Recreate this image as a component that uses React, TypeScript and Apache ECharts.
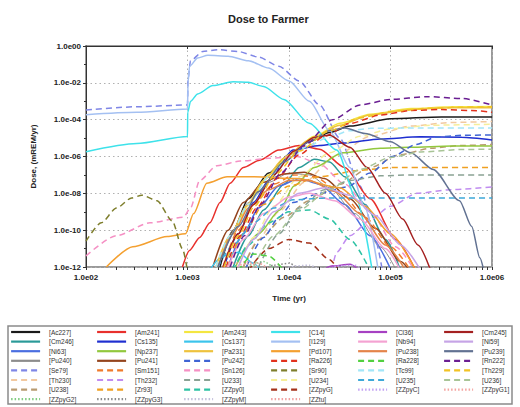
import React, { useEffect, useRef } from "react";
import * as echarts from "echarts";

// Each point: [log10(time, yr), log10(dose, mREM/yr)]
const ac227 = [[3.32,-12],[3.45,-10],[3.6,-8.3],[3.8,-6.9],[4.0,-5.9],[4.2,-5.2],[4.4,-4.7],[4.6,-4.35],[5.0,-3.95],[5.5,-3.85],[6,-3.85]];
const am241 = [[2.95,-12],[3.02,-11.1],[3.12,-10.4],[3.22,-9.6],[3.32,-8.5],[3.42,-7.45],[3.55,-6.6],[3.71,-6.2],[3.9,-5.65],[4.1,-5.4],[4.3,-5.6],[4.55,-6.6],[4.8,-8.3],[5.05,-10.5],[5.25,-12.2]];
const am243 = [[3.3,-12],[3.45,-10.2],[3.6,-8.6],[3.8,-7.0],[4.0,-5.9],[4.25,-4.9],[4.5,-4.2],[4.8,-3.7],[5.2,-3.4],[5.6,-3.3],[6,-3.28]];
const cm246 = [[3.45,-12],[3.6,-10.3],[3.75,-8.9],[3.95,-7.5],[4.1,-6.6],[4.25,-6.15],[4.4,-6.3],[4.55,-7.1],[4.75,-8.6],[4.95,-10.5],[5.1,-12.2]];
const cs135 = [[3.36,-12],[3.5,-10.2],[3.65,-8.5],[3.8,-7.3],[4.04,-5.65],[4.3,-5.4],[4.53,-5.27],[4.9,-5.05],[5.29,-4.93],[5.7,-4.95],[6,-5.1]];
const cs137 = [[3.2,-12.3],[3.35,-11.4],[3.5,-11.2],[3.65,-11.8],[3.75,-12.4]];
const ni63 = [[3.4,-12],[3.55,-10.2],[3.7,-8.8],[3.9,-7.6],[4.1,-7.2],[4.3,-7.5],[4.55,-8.6],[4.8,-10.3],[5.0,-12.1]];
const np237 = [[3.47,-12],[3.7,-10.2],[3.91,-8.9],[4.05,-7.6],[4.25,-6.6],[4.53,-5.8],[4.9,-5.55],[5.19,-5.5],[5.6,-5.43],[6,-5.43]];
const pa231 = [[3.28,-12],[3.42,-10.3],[3.58,-8.7],[3.75,-7.3],[3.95,-6.1],[4.2,-5.1],[4.5,-4.3],[4.8,-3.75],[5.2,-3.45],[5.6,-3.35],[6,-3.35]];
const pu240 = [[3.3,-12],[3.45,-10],[3.6,-8.5],[3.8,-7.4],[4.0,-6.9],[4.2,-7.0],[4.4,-7.7],[4.65,-9.1],[4.9,-10.9],[5.05,-12.1]];
const pu241 = [[3.25,-12],[3.4,-10],[3.55,-8.5],[3.75,-7.4],[3.95,-6.95],[4.15,-6.85],[4.35,-7.2],[4.6,-8.3],[4.85,-9.9],[5.1,-11.7],[5.2,-12.3]];
const pu242 = [[3.58,-12],[3.75,-10.4],[3.9,-9.3],[4.04,-8.5],[4.3,-8.0],[4.57,-7.65],[4.8,-6.9],[5.02,-6.0],[5.25,-5.35],[5.45,-4.95],[5.7,-4.85],[6,-4.83]];
const se79 = [[2,-3.47],[2.5,-3.3],[3,-3.2],[3.005,-1.8],[3.03,-0.8],[3.15,-0.3],[3.3,-0.2],[3.5,-0.3],[3.7,-0.6],[3.9,-1.1],[4.1,-1.9],[4.3,-3.2],[4.5,-5],[4.7,-7.6],[4.85,-10.5],[4.92,-12.2]];
const sm151 = [[3.35,-12],[3.5,-10],[3.65,-8.6],[3.85,-7.5],[4.05,-7.0],[4.25,-7.1],[4.5,-7.9],[4.75,-9.3],[5.0,-10.9],[5.2,-12.2]];
const sn126 = [[2,-11.4],[2.3,-10.3],[2.63,-9.6],[2.96,-9.3],[3.03,-8.8],[3.12,-7.3],[3.29,-6.5],[3.52,-6.25],[3.8,-6.1],[4.08,-6.0],[4.3,-6.4],[4.55,-7.5],[4.8,-9.0],[5.05,-10.9],[5.25,-12.3]];
const th230 = [[3.55,-12],[3.7,-10.5],[3.9,-9.0],[4.15,-7.4],[4.45,-6.0],[4.8,-4.9],[5.2,-4.35],[5.6,-4.15],[6,-4.1]];
const th232 = [[4.42,-12.2],[4.47,-11.2],[4.6,-10.3],[4.8,-9.45],[5.0,-8.7],[5.26,-8.0],[5.6,-7.8],[6,-7.65]];
const u233 = [[3.7,-12],[3.9,-10.2],[4.1,-8.8],[4.35,-7.8],[4.6,-7.3],[4.9,-7.05],[5.2,-7.0],[6,-7.0]];
const u238 = [[3.55,-12],[3.71,-10.5],[3.95,-9.3],[4.2,-8.4],[4.5,-7.5],[4.8,-6.6],[5.09,-5.9],[5.4,-5.55],[5.7,-5.4],[6,-5.35]];
const zr93 = [[3.4,-12],[3.55,-10.2],[3.75,-8.6],[4.0,-7.6],[4.3,-7.1],[4.7,-6.75],[5.0,-6.6],[6,-6.6]];
const zzpy0 = [[3.45,-12.2],[3.6,-10.8],[3.8,-9.6],[4.0,-9.0],[4.2,-8.9],[4.4,-9.4],[4.6,-10.5],[4.8,-12.2]];
const zzpyG2 = [[3.5,-12.3],[3.6,-11.9],[3.75,-11.7],[3.9,-12.3]];
const zzpyG3 = [[3.7,-12.3],[3.85,-11.9],[4.0,-11.8],[4.15,-12.3]];
const zzpyM = [[3.9,-12.3],[4.05,-11.95],[4.2,-11.9],[4.35,-12.3]];
const c14 = [[2,-5.74],[2.5,-5.3],[3,-4.92],[3.002,-3.6],[3.03,-3.0],[3.1,-2.6],[3.25,-2.15],[3.45,-1.94],[3.6,-1.97],[3.75,-2.2],[3.95,-2.9],[4.2,-4.2],[4.47,-5.65],[4.67,-8.4],[4.82,-12.2]];
const i129 = [[2,-3.73],[2.5,-3.6],[3,-3.42],[3.005,-2.0],[3.02,-1.1],[3.1,-0.65],[3.2,-0.5],[3.4,-0.55],[3.6,-0.8],[3.8,-1.2],[4.0,-1.9],[4.2,-3.0],[4.4,-4.6],[4.6,-6.6],[4.75,-8.8],[4.88,-12.2]];
const pd107 = [[2.2,-12],[2.46,-10.9],[2.8,-10.35],[2.98,-10.2],[3.06,-9.1],[3.19,-7.45],[3.39,-7.1],[3.65,-7.1],[4.08,-7.2],[4.5,-7.7],[4.75,-8.7],[5.0,-10.2],[5.25,-12.2]];
const ra226 = [[3.38,-12],[3.52,-10.3],[3.68,-8.8],[3.88,-7.2],[4.1,-5.9],[4.35,-4.9],[4.6,-4.2],[4.9,-3.75],[5.2,-3.5],[5.5,-3.45],[5.8,-3.5],[6,-3.6]];
const sr90 = [[2,-10.6],[2.15,-9.6],[2.3,-8.8],[2.45,-8.25],[2.55,-8.1],[2.7,-8.4],[2.85,-9.5],[2.95,-11.0],[3.0,-12.2]];
const u234 = [[3.5,-12],[3.65,-10.4],[3.85,-8.7],[4.1,-7.1],[4.4,-5.8],[4.7,-4.9],[5.0,-4.5],[5.4,-4.3],[6,-4.25]];
const zzpyG = [[3.6,-12.2],[3.8,-11.0],[4.0,-10.5],[4.2,-10.7],[4.4,-11.6],[4.5,-12.3]];
const zztu = [[3.3,-12.3],[3.45,-11.8],[3.6,-11.7],[3.75,-12.3]];
const cl36 = [[4.3,-12.3],[4.42,-11.95],[4.6,-11.85],[4.72,-12.3]];
const nb94 = [[3.4,-12],[3.55,-10.5],[3.75,-9.1],[4.0,-8.2],[4.2,-8.0],[4.45,-8.4],[4.7,-9.4],[4.95,-11],[5.1,-12.2]];
const pu238 = [[3.3,-12],[3.45,-10.2],[3.6,-8.8],[3.8,-7.8],[4.0,-7.3],[4.2,-7.3],[4.45,-7.9],[4.7,-9.1],[4.95,-10.8],[5.15,-12.2]];
const ra228 = [[3.5,-12.2],[3.65,-11.3],[3.8,-11.4],[3.95,-12.2]];
const tc99 = [[3.28,-12],[3.42,-10.3],[3.6,-8.6],[3.8,-7.1],[4.0,-6.1],[4.2,-5.4],[4.37,-5.0],[4.6,-4.6],[4.8,-4.47],[5.2,-4.45],[6,-4.45]];
const u235 = [[3.3,-12],[3.45,-10.8],[3.65,-9.6],[3.85,-8.8],[4.04,-8.35],[4.4,-8.25],[6,-8.25]];
const zzpyC = [[4.4,-12.3],[4.47,-11.95],[4.65,-11.9],[4.75,-12.3]];
const cm245 = [[3.35,-12],[3.5,-10.2],[3.65,-8.6],[3.85,-7.0],[4.05,-5.7],[4.25,-4.95],[4.4,-4.85],[4.6,-5.5],[4.77,-6.6],[4.95,-8.0],[5.12,-9.4],[5.27,-10.8],[5.39,-12.1]];
const ni59 = [[3.5,-12],[3.65,-10.5],[3.85,-9.0],[4.1,-8.0],[4.35,-7.7],[4.6,-8.1],[4.85,-9.2],[5.1,-10.8],[5.3,-12.2]];
const pu239 = [[3.3,-12],[3.5,-9.8],[3.7,-7.9],[3.95,-6.3],[4.2,-5.2],[4.4,-4.6],[4.55,-4.45],[4.75,-4.75],[5.0,-5.2],[5.2,-5.8],[5.42,-6.7],[5.68,-8.4],[5.8,-9.8],[5.88,-11.5],[5.92,-12.2]];
const rn222 = [[3.42,-12],[3.56,-10.3],[3.72,-8.6],[3.92,-6.9],[4.15,-5.4],[4.43,-4.0],[4.7,-3.2],[5.0,-2.9],[5.36,-2.75],[5.7,-2.85],[6,-3.2]];
const th229 = [[3.36,-12],[3.5,-10.3],[3.66,-8.7],[3.86,-7.0],[4.1,-5.7],[4.4,-4.6],[4.7,-3.9],[5.0,-3.55],[5.4,-3.38],[5.7,-3.32],[6,-3.3]];
const u236 = [[3.65,-12],[3.85,-10.3],[4.1,-8.9],[4.4,-7.8],[4.7,-6.7],[5.0,-6.05],[5.3,-5.75],[5.7,-5.62],[6,-5.6]];
const zzpyG1 = [[3.4,-12.3],[3.55,-11.85],[3.7,-11.8],[3.85,-12.3]];

const xTickValues = [2, 3, 4, 5, 6];
const yTickValues = [0, -2, -4, -6, -8, -10, -12];

const legendColumns = [
  ["[Ac227]", "[Cm246]", "[Ni63]", "[Pu240]", "[Se79]", "[Th230]", "[U238]", "[ZZpyG2]"],
  ["[Am241]", "[Cs135]", "[Np237]", "[Pu241]", "[Sm151]", "[Th232]", "[Zr93]", "[ZZpyG3]"],
  ["[Am243]", "[Cs137]", "[Pa231]", "[Pu242]", "[Sn126]", "[U233]", "[ZZpy0]", "[ZZpyM]"],
  ["[C14]", "[I129]", "[Pd107]", "[Ra226]", "[Sr90]", "[U234]", "[ZZpyG]", "[ZZtu]"],
  ["[Cl36]", "[Nb94]", "[Pu238]", "[Ra228]", "[Tc99]", "[U235]", "[ZZpyC]"],
  ["[Cm245]", "[Ni59]", "[Pu239]", "[Rn222]", "[Th229]", "[U236]", "[ZZpyG1]"],
];

const DASH = [6, 4];
const DOT = [1.5, 2];
const SERIES: { name: string; data: number[][]; color: string; dash: any; width?: number }[] = [
  { name: "[Ac227]", data: ac227, color: "#1a1a1a", dash: "solid" },
  { name: "[Cm246]", data: cm246, color: "#2a9a98", dash: "solid" },
  { name: "[Ni63]", data: ni63, color: "#4a6ee0", dash: "solid" },
  { name: "[Pu240]", data: pu240, color: "#8c8c8c", dash: "solid", width: 1 },
  { name: "[Se79]", data: se79, color: "#7f86e6", dash: DASH },
  { name: "[Th230]", data: th230, color: "#f2c9a0", dash: DASH },
  { name: "[U238]", data: u238, color: "#b89a70", dash: DASH },
  { name: "[ZZpyG2]", data: zzpyG2, color: "#80cc80", dash: DOT },
  { name: "[Am241]", data: am241, color: "#e8302c", dash: "solid" },
  { name: "[Cs135]", data: cs135, color: "#1f2fd0", dash: "solid" },
  { name: "[Np237]", data: np237, color: "#92c83e", dash: "solid" },
  { name: "[Pu241]", data: pu241, color: "#94441e", dash: "solid" },
  { name: "[Sm151]", data: sm151, color: "#f07a2a", dash: DASH },
  { name: "[Th232]", data: th232, color: "#c08cf0", dash: DASH },
  { name: "[Zr93]", data: zr93, color: "#f0a020", dash: DASH },
  { name: "[ZZpyG3]", data: zzpyG3, color: "#8a8a8a", dash: DOT },
  { name: "[Am243]", data: am243, color: "#f4e640", dash: "solid" },
  { name: "[Cs137]", data: cs137, color: "#3cc4ec", dash: "solid" },
  { name: "[Pa231]", data: pa231, color: "#eec23e", dash: "solid" },
  { name: "[Pu242]", data: pu242, color: "#3f64d4", dash: DASH },
  { name: "[Sn126]", data: sn126, color: "#f590c4", dash: DASH },
  { name: "[U233]", data: u233, color: "#8aa294", dash: DASH },
  { name: "[ZZpy0]", data: zzpy0, color: "#2ec2a4", dash: DASH },
  { name: "[ZZpyM]", data: zzpyM, color: "#c4c0dc", dash: DOT },
  { name: "[C14]", data: c14, color: "#3ee2ea", dash: "solid" },
  { name: "[I129]", data: i129, color: "#a4c0f2", dash: "solid" },
  { name: "[Pd107]", data: pd107, color: "#f4a030", dash: "solid" },
  { name: "[Ra226]", data: ra226, color: "#e2321e", dash: DASH },
  { name: "[Sr90]", data: sr90, color: "#7e7e2c", dash: DASH },
  { name: "[U234]", data: u234, color: "#f6ee9a", dash: DASH },
  { name: "[ZZpyG]", data: zzpyG, color: "#a4301a", dash: DASH },
  { name: "[ZZtu]", data: zztu, color: "#f2a2a2", dash: DOT },
  { name: "[Cl36]", data: cl36, color: "#a640c2", dash: "solid" },
  { name: "[Nb94]", data: nb94, color: "#f4a2d2", dash: "solid" },
  { name: "[Pu238]", data: pu238, color: "#e4844a", dash: "solid" },
  { name: "[Ra228]", data: ra228, color: "#52d040", dash: DASH },
  { name: "[Tc99]", data: tc99, color: "#a2e6f8", dash: DASH },
  { name: "[U235]", data: u235, color: "#3ea8d8", dash: DASH },
  { name: "[ZZpyC]", data: zzpyC, color: "#c2a2f2", dash: DOT },
  { name: "[Cm245]", data: cm245, color: "#a42020", dash: "solid" },
  { name: "[Ni59]", data: ni59, color: "#c6a4e6", dash: "solid" },
  { name: "[Pu239]", data: pu239, color: "#627292", dash: "solid" },
  { name: "[Rn222]", data: rn222, color: "#6a1e92", dash: DASH },
  { name: "[Th229]", data: th229, color: "#f2c224", dash: DASH },
  { name: "[U236]", data: u236, color: "#a8c496", dash: DASH },
  { name: "[ZZpyG1]", data: zzpyG1, color: "#f4a4a0", dash: DOT },
];

const FONT = "'Liberation Sans', Arial, sans-serif";
const legendLefts = [10, 96, 183, 270, 357, 443];

function yLabel(v: number) {
  if (v === 0) return "1.0e00";
  const n = Math.round(-v);
  return "1.0e-" + (n < 10 ? "0" + n : String(n));
}

export default function App() {
  const ref = useRef<HTMLDivElement>(null);
  useEffect(() => {
    if (!ref.current) return;
    const chart = echarts.init(ref.current, null, { renderer: "svg" });
    const minorX: number[] = [];
    for (let d = 2; d < 6; d++) for (let k = 1; k < 10; k++) minorX.push(d + Math.log10(k));
    minorX.push(6);
    const labelStyle = { fontSize: 8, fontWeight: "bold", color: "#222", fontFamily: FONT };
    const option: any = {
      animation: false,
      backgroundColor: "#ffffff",
      title: {
        text: "Dose to Farmer",
        left: 223,
        top: 8,
        textStyle: { fontSize: 11, fontWeight: "bold", color: "#222", fontFamily: FONT },
      },
      grid: {
        left: 86, right: 28, top: 46, bottom: 140,
        show: true, borderColor: "#9a9a9a", borderWidth: 2,
        outerBoundsMode: "none",
      },
      xAxis: [
        {
          type: "value", min: 2, max: 6, interval: 1,
          name: "Time (yr)", nameLocation: "middle", nameGap: 27,
          nameTextStyle: labelStyle,
          axisLine: { show: true, lineStyle: { color: "#333", width: 1 } },
          axisTick: { show: true, length: 3, lineStyle: { color: "#333" } },
          axisLabel: { ...labelStyle, margin: 6, customValues: xTickValues,
            formatter: (v: number) => "1.0e0" + Math.round(v) },
          splitLine: { show: true, lineStyle: { color: "#b0b0b0", type: [1.5, 3], width: 1 } },
        },
        {
          type: "value", min: 2, max: 6, position: "bottom",
          axisLine: { show: false },
          axisTick: { show: true, length: 3, customValues: minorX, lineStyle: { color: "#333" } },
          axisLabel: { show: false },
          splitLine: { show: false },
        },
      ],
      yAxis: {
        type: "value", min: -12, max: 0, interval: 2,
        name: "Dose, (mREM/yr)", nameLocation: "middle", nameGap: 49, nameRotate: 90,
        nameTextStyle: labelStyle,
        axisLine: { show: true, lineStyle: { color: "#333", width: 1 } },
        axisTick: { show: true, length: 3, lineStyle: { color: "#333" } },
        minorTick: { show: true, splitNumber: 2, length: 2, lineStyle: { color: "#333" } },
        axisLabel: { ...labelStyle, margin: 5, customValues: yTickValues, formatter: yLabel },
        splitLine: { show: true, lineStyle: { color: "#b0b0b0", type: [1.5, 3], width: 1 } },
      },
      legend: legendColumns.map((names, i) => ({
        data: names,
        orient: "vertical",
        left: legendLefts[i],
        top: 328,
        itemWidth: 29,
        itemHeight: 8,
        itemGap: 1.6,
        padding: 0,
        selectedMode: false,
        itemStyle: { opacity: 0 },
        lineStyle: { width: 2.2 },
        textStyle: { fontSize: 6.5, lineHeight: 8, color: "#333", fontFamily: FONT, padding: [0, 0, 0, 4] },
      })),
      graphic: [
        {
          type: "rect",
          shape: { x: 8, y: 326, width: 504, height: 78 },
          style: { fill: "none", stroke: "#8a8a8a", lineWidth: 1.5 },
          silent: true,
        },
      ],
      series: SERIES.map((s) => ({
        name: s.name,
        type: "line",
        xAxisIndex: 0,
        data: s.data,
        symbol: "none",
        showSymbol: false,
        smooth: 0.25,
        smoothMonotone: "x",
        clip: true,
        silent: true,
        color: s.color,
        lineStyle: { color: s.color, width: s.width ?? 1.5, type: s.dash },
        emphasis: { disabled: true },
      })),
    };
    chart.setOption(option);
    return () => chart.dispose();
  }, []);
  return (
    <div
      ref={ref}
      style={{ position: "fixed", left: 0, top: 0, width: 520, height: 407, background: "#fff" }}
    />
  );
}
